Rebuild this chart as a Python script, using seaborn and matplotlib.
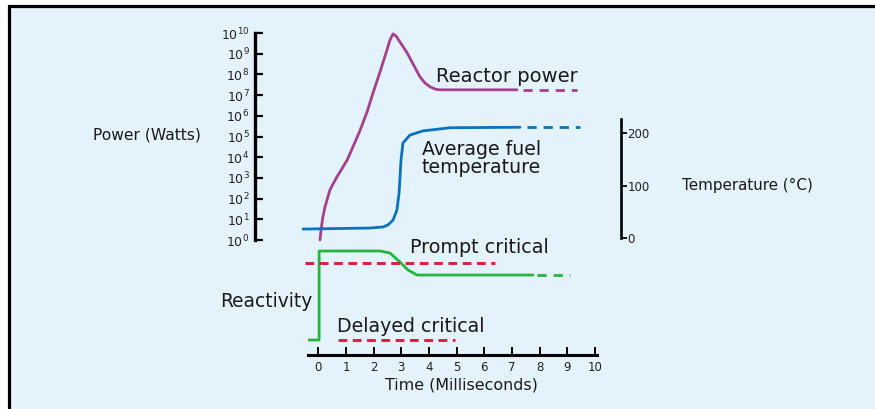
import seaborn as sns
import matplotlib.pyplot as plt
from matplotlib.patches import Rectangle

# values
# time in milliseconds
power_t = [0.06, 0.10, 0.16, 0.24, 0.42, 0.53, 0.67, 0.78, 1.04, 1.25, 1.51, 1.76, 1.98, 2.23,
           2.48, 2.59, 2.70, 2.81, 2.95, 3.21, 3.46, 3.68, 3.86, 4.04, 4.25, 4.40, 7.18]
power_w = [1.0, 3.0, 12, 39, 260, 500, 1.1e3, 1.9e3, 7.2e3, 3.1e4, 2.0e5, 1.5e6, 1.3e7, 1.3e8,
           1.5e9, 4.6e9, 9.0e9, 7.2e9, 3.7e9, 1.1e9, 2.6e8, 7.4e7, 3.8e7, 2.5e7, 1.9e7, 1.8e7, 1.8e7]
power_dash_t = [7.40, 9.35]
power_dash_w = [1.8e7, 1.8e7]

temp_t = [-0.55, 1.87, 2.34, 2.52, 2.70, 2.84, 2.92, 2.99, 3.06, 3.31, 3.78, 4.76, 7.29]
temp_c = [17, 19, 21, 25, 34, 53, 86, 149, 181, 196, 204, 210, 211]
temp_dash_t = [7.53, 9.46]
temp_dash_c = [211, 211]

# reactivity: 0 = delayed critical, 1 = prompt critical
react_t = [-0.37, 0.03, 0.03, 2.23, 2.59, 2.95, 3.24, 3.57, 7.76]
react_v = [0.0, 0.0, 1.156, 1.156, 1.13, 1.013, 0.909, 0.844, 0.844]
react_dash_t = [7.90, 9.09]
react_dash_v = [0.844, 0.844]

prompt_t = [-0.48, 6.39]
prompt_v = [1.0, 1.0]
delayed_t = [0.71, 4.94]
delayed_v = [0.0, 0.0]

power_ticks = [10.0 ** k for k in range(11)]
power_labels = [f"$10^{{{k}}}$" for k in range(11)]
temp_ticks = [0, 100, 200]
time_ticks = list(range(11))

MAGENTA = "#A3408F"
BLUE = "#0B72BD"
GREEN = "#25B440"
RED = "#E41A3C"
BG = "#E4F2FC"

sns.set_theme(style="white")
plt.rcParams["font.family"] = ["DejaVu Sans"]

W, H = 875, 409
fig = plt.figure(figsize=(W / 100, H / 100), dpi=100, facecolor="white")


def box(left, right, top, bottom):
    return [left / W, 1 - bottom / H, (right - left) / W, (bottom - top) / H]


def fx(px):
    return px / W


def fy(py):
    return 1 - py / H


# panel background with frame on top and left
fig.add_artist(Rectangle((fx(8.5), fy(440)), 2, fy(5.5) - fy(440),
                         transform=fig.transFigure, facecolor=BG,
                         edgecolor="black", linewidth=2.3, zorder=-5))

# power axis (log) + temperature twin
ax_p = fig.add_axes(box(255, 621, 33, 240))
ax_p.set_facecolor("none")
ax_p.set_yscale("log")
ax_p.set_xlim(-2.288, 10.94)
ax_p.set_ylim(1, 1e10)

sns.lineplot(x=power_t, y=power_w, ax=ax_p, color=MAGENTA, linewidth=2.0,
             estimator=None, sort=False, clip_on=False)
sns.lineplot(x=power_dash_t, y=power_dash_w, ax=ax_p, color=MAGENTA, linewidth=2.0,
             estimator=None, sort=False, linestyle=(0, (3.3, 2.5)))

for s in ["top", "right", "bottom"]:
    ax_p.spines[s].set_visible(False)
ax_p.spines["left"].set_linewidth(2.4)
ax_p.spines["left"].set_color("black")
ax_p.spines["left"].set_bounds(1, 1e10)
ax_p.set_yticks(power_ticks)
ax_p.set_yticklabels(power_labels)
ax_p.minorticks_off()
ax_p.set_xticks([])
ax_p.tick_params(axis="y", direction="in", length=6, width=1.6, labelsize=9,
                 pad=4, left=True, colors="black")
ax_p.tick_params(axis="y", labelcolor="#222222")

ax_t = ax_p.twinx()
ax_t.set_facecolor("none")
ax_t.set_ylim(-3.81, 390.5)
sns.lineplot(x=temp_t, y=temp_c, ax=ax_t, color=BLUE, linewidth=2.0,
             estimator=None, sort=False)
sns.lineplot(x=temp_dash_t, y=temp_dash_c, ax=ax_t, color=BLUE, linewidth=2.0,
             estimator=None, sort=False, linestyle=(0, (3.3, 2.5)))
for s in ["top", "left", "bottom"]:
    ax_t.spines[s].set_visible(False)
ax_t.spines["right"].set_linewidth(1.9)
ax_t.spines["right"].set_color("black")
ax_t.spines["right"].set_bounds(0, 227)
ax_t.set_yticks(temp_ticks)
ax_t.tick_params(axis="y", direction="out", length=4, width=1.3, labelsize=8.5,
                 pad=0.5, right=True, colors="black")
ax_t.tick_params(axis="y", labelcolor="#222222")
ax_t.set_xticks([])

# reactivity + time axis
ax_r = fig.add_axes(box(308, 597, 245, 355))
ax_r.set_facecolor("none")
ax_r.set_xlim(-0.372, 10.07)
ax_r.set_ylim(-0.195, 1.234)
sns.lineplot(x=react_t, y=react_v, ax=ax_r, color=GREEN, linewidth=2.0,
             estimator=None, sort=False)
sns.lineplot(x=react_dash_t, y=react_dash_v, ax=ax_r, color=GREEN, linewidth=2.0,
             estimator=None, sort=False, linestyle=(0, (3.3, 2.5)))
sns.lineplot(x=prompt_t, y=prompt_v, ax=ax_r, color=RED, linewidth=2.1,
             estimator=None, sort=False, linestyle=(0, (3.0, 1.9)), clip_on=False)
sns.lineplot(x=delayed_t, y=delayed_v, ax=ax_r, color=RED, linewidth=2.1,
             estimator=None, sort=False, linestyle=(0, (3.0, 1.9)))
for s in ["top", "left", "right"]:
    ax_r.spines[s].set_visible(False)
ax_r.spines["bottom"].set_linewidth(2.2)
ax_r.spines["bottom"].set_color("black")
ax_r.set_xticks(time_ticks)
ax_r.set_yticks([])
ax_r.tick_params(axis="x", direction="in", length=6, width=1.4, labelsize=8.5,
                 pad=4, bottom=True, colors="black")
ax_r.tick_params(axis="x", labelcolor="#222222")

# labels
txt = "#1a1a1a"
fig.text(fx(93), fy(135), "Power (Watts)", fontsize=11.2, color=txt, va="center", ha="left")
fig.text(fx(682), fy(185), "Temperature (°C)", fontsize=10.9, color=txt, va="center", ha="left")
fig.text(fx(436), fy(82), "Reactor power", fontsize=14, color=txt, va="baseline", ha="left")
fig.text(fx(422), fy(173), "Average fuel\ntemperature", fontsize=13.6, color=txt,
         va="baseline", ha="left", linespacing=0.95)
fig.text(fx(410), fy(253), "Prompt critical", fontsize=13.8, color=txt, va="baseline", ha="left")
fig.text(fx(337), fy(332), "Delayed critical", fontsize=13.7, color=txt, va="baseline", ha="left")
fig.text(fx(220), fy(307), "Reactivity", fontsize=13.4, color=txt, va="baseline", ha="left")
fig.text(fx(461), fy(385), "Time (Milliseconds)", fontsize=11.4, color=txt, va="center", ha="center")

fig.savefig("out.png", dpi=100, facecolor="white")
